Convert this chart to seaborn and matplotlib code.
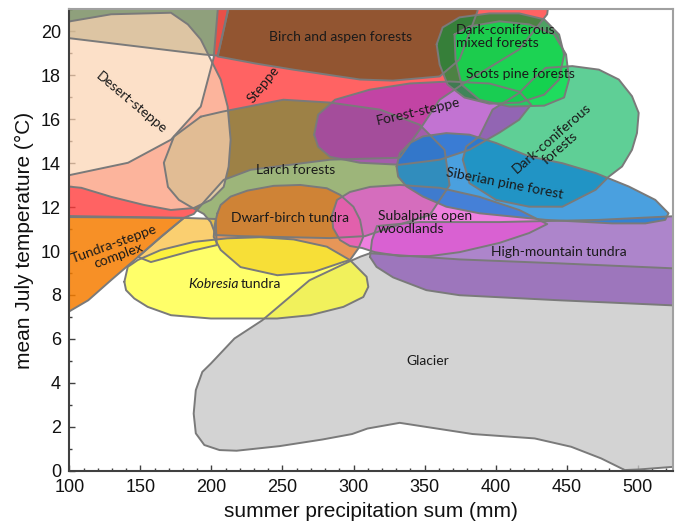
import matplotlib
matplotlib.use("Agg")
import matplotlib.pyplot as plt
from matplotlib.ticker import MultipleLocator
import seaborn as sns

# zone outlines (x = summer precipitation in mm, y = July temp in degC)
sage_top_x = [94.4, 213.5, 211.4, 204.4, 194.6, 101.4, 94.4]
sage_top_y = [21.5, 21.5, 20.87, 18.9, 18.95, 19.68, 19.73]

steppe_x = [94.4, 141.3, 171.5, 192.5, 201.6, 205.1, 437.7, 436.3, 416.6, 381.6, 360.6, 346.6,
            332.6, 283.5, 227.5, 208.6, 196.0, 187.6, 180.6, 94.4]
steppe_y = [13.38, 14.02, 15.07, 16.58, 18.81, 21.5, 21.5, 20.78, 19.18, 17.81, 16.89, 15.53,
            14.25, 14.16, 13.7, 13.24, 12.33, 11.69, 11.51, 11.6]

larch_x = [192.5, 207.9, 250.6, 283.5, 318.6, 346.6, 364.1, 367.6, 353.6, 329.1, 308.1, 283.5,
           248.5, 220.5, 203.0, 199.5, 194.6, 185.5, 177.1, 169.4, 166.5, 173.6]
larch_y = [16.12, 16.35, 16.89, 16.76, 16.44, 15.75, 14.61, 13.0, 11.64, 11.14, 10.68, 10.59,
           10.64, 10.68, 10.73, 11.32, 11.69, 12.01, 12.33, 12.92, 14.02, 15.21]

desert_x = [94.4, 101.4, 129.4, 171.5, 183.4, 192.5, 199.5, 206.5, 211.4, 213.5, 212.1, 208.6,
            199.5, 187.6, 171.5, 152.5, 129.4, 108.4, 94.4]
desert_y = [20.37, 20.47, 20.78, 20.85, 20.32, 19.63, 18.72, 17.81, 16.58, 15.07, 13.84, 12.92,
            12.33, 11.96, 11.87, 12.1, 12.47, 12.88, 12.97]

birch_x = [212.1, 211.4, 207.9, 204.4, 231.0, 257.6, 304.6, 327.7, 360.6, 374.6, 387.2, 388.6]
birch_y = [21.5, 20.91, 19.86, 18.86, 18.54, 18.26, 17.81, 17.76, 17.95, 18.72, 20.91, 21.5]

darkcon_x = [435.3, 454.0, 472.7, 486.7, 496.0, 500.7, 499.5, 496.0, 489.0, 479.7, 470.4, 447.0,
             423.6, 400.3, 381.6, 376.9, 379.3, 388.6, 397.9, 416.6, 426.0]
darkcon_y = [18.34, 18.42, 18.26, 17.81, 17.05, 16.29, 15.37, 14.61, 13.85, 13.39, 12.79, 12.02,
             12.02, 12.33, 13.09, 14.16, 14.76, 15.22, 16.44, 17.2, 17.81]

forest_steppe_x = [272.3, 275.1, 287.0, 311.6, 339.6, 367.6, 395.6, 416.6, 425.0, 416.6, 402.6,
                   381.6, 360.6, 332.6, 304.6, 283.5, 275.1]
forest_steppe_y = [15.3, 16.21, 16.89, 17.35, 17.63, 17.72, 17.63, 17.26, 16.67, 15.98, 15.39,
                   14.61, 14.16, 13.93, 14.02, 14.29, 14.75]

mixed_x = [358.5, 362.7, 374.6, 395.6, 416.6, 434.2, 444.7, 448.2, 444.7, 434.2, 416.6, 395.6,
           378.1, 366.2, 360.6]
mixed_y = [19.41, 20.18, 20.64, 20.82, 20.82, 20.55, 19.86, 18.95, 17.81, 17.12, 16.76, 16.71,
           16.99, 17.58, 18.49]

scots_x = [371.1, 381.6, 402.6, 423.6, 441.2, 449.6, 451.7, 448.2, 434.2, 409.6, 388.6, 376.0, 371.8]
scots_y = [19.86, 20.23, 20.46, 20.32, 19.86, 18.95, 17.81, 16.99, 16.62, 16.58, 16.89, 17.58, 18.72]

glacier_x = [311.6, 374.6, 444.7, 530.0, 530.0, 519.6, 501.5, 490.9, 474.3, 453.2, 427.5, 383.8,
             353.6, 332.5, 309.8, 299.0, 278.0, 248.0, 217.7, 205.7, 195.0, 189.0, 187.5, 189.0,
             193.6, 199.6, 216.2, 235.8, 269.0, 296.2, 305.0]
glacier_y = [9.9, 9.62, 9.44, 9.2, 0.2, 0.15, 0.06, 0.03, 0.56, 1.09, 1.47, 1.67,
             1.97, 2.18, 1.92, 1.67, 1.42, 1.12, 0.91, 0.94, 1.17, 1.7, 2.6, 3.67,
             4.5, 4.88, 6.02, 6.85, 8.67, 9.5, 9.75]

hm_tundra_x = [311.6, 313.0, 316.5, 346.6, 402.6, 472.7, 530.0, 530.0, 524.0, 444.7, 374.6, 351.3,
               327.9, 316.2]
hm_tundra_y = [9.73, 10.5, 11.14, 11.32, 11.32, 11.42, 11.6, 7.5, 7.53, 7.76, 7.99, 8.22,
               8.8, 9.28]

pale_x = [180.6, 203.0, 203.7, 185.5, 157.4, 148.3, 164.4]
pale_y = [11.51, 11.46, 10.27, 10.0, 9.5, 9.73, 10.64]

tsteppe_x = [94.4, 180.6, 164.4, 148.3, 129.4, 113.3, 101.4, 94.4]
tsteppe_y = [11.55, 11.51, 10.64, 9.73, 8.68, 7.76, 7.31, 7.03]

dwarf_x = [204.2, 206.5, 213.5, 225.2, 243.8, 262.5, 281.2, 290.5, 299.9, 304.6, 306.9, 303.4,
           297.5, 292.6, 271.6, 246.4, 220.5, 206.5, 201.6, 202.3]
dwarf_y = [11.72, 12.1, 12.48, 12.75, 12.97, 13.01, 12.86, 12.56, 12.02, 11.42, 10.65, 10.12,
           9.59, 9.5, 9.04, 8.9, 9.27, 10.05, 10.64, 11.19]

kobresia_x = [138.7, 141.1, 148.1, 164.4, 187.8, 211.2, 234.5, 257.8, 281.2, 297.5, 309.2, 310.4,
              306.9, 292.9, 269.5, 246.2, 222.8, 199.5, 171.5, 155.1, 145.7, 139.9]
kobresia_y = [8.6, 9.28, 9.59, 10.05, 10.42, 10.58, 10.63, 10.53, 10.2, 9.59, 8.83, 8.37,
              7.91, 7.46, 7.08, 6.93, 6.93, 6.93, 7.08, 7.46, 7.84, 8.22]

subalpine_x = [284.9, 288.4, 297.5, 311.6, 332.6, 360.6, 388.6, 416.6, 436.3, 423.6, 402.6, 374.6,
               353.6, 332.6, 315.1, 306.0, 297.5, 290.5, 285.6]
subalpine_y = [11.64, 12.33, 12.69, 12.92, 13.01, 12.88, 12.47, 11.87, 11.23, 10.82, 10.37, 9.95,
               9.77, 9.77, 9.95, 10.14, 10.23, 10.5, 11.05]

siberian_x = [330.3, 332.6, 339.6, 348.9, 365.3, 381.6, 400.3, 423.6, 447.0, 470.4, 493.7, 512.4,
              521.7, 519.4, 505.4, 482.0, 458.7, 435.3, 412.0, 388.6, 365.3, 348.9, 337.3, 331.4]
siberian_y = [13.85, 14.46, 14.92, 15.22, 15.37, 15.3, 14.92, 14.31, 14.0, 13.55, 12.94, 12.33,
              11.72, 11.42, 11.26, 11.26, 11.34, 11.42, 11.57, 11.72, 12.02, 12.48, 12.94, 13.39]

# drawing order, colour and opacity of each zone
zones = [
    (sage_top_x, sage_top_y, "#58713c", 0.67),
    (steppe_x, steppe_y, "#ff3c3c", 0.8),
    (larch_x, larch_y, "#6d9139", 0.67),
    (desert_x, desert_y, "#fcd4b3", 0.72),
    (birch_x, birch_y, "#7f5329", 0.85),
    (darkcon_x, darkcon_y, "#29bf73", 0.75),
    (forest_steppe_x, forest_steppe_y, "#a838c0", 0.7),
    (mixed_x, mixed_y, "#1f8a3c", 0.8),
    (scots_x, scots_y, "#10e050", 0.8),
    (glacier_x, glacier_y, "#c8c8c8", 0.8),
    (hm_tundra_x, hm_tundra_y, "#8144b0", 0.65),
    (pale_x, pale_y, "#f9c040", 0.75),
    (tsteppe_x, tsteppe_y, "#f67d00", 0.85),
    (dwarf_x, dwarf_y, "#e07320", 0.75),
    (kobresia_x, kobresia_y, "#ffff2a", 0.7),
    (subalpine_x, subalpine_y, "#e955d5", 0.75),
    (siberian_x, siberian_y, "#0d80d5", 0.75),
]

# zone labels: text, x, y, rotation
labels = [
    ("Birch and aspen forests", 291.2, 19.73, 0),
    ("Desert-steppe", 143.4, 16.76, -40),
    ("Steppe", 236.6, 17.58, 51),
    ("Scots pine forests", 417.3, 18.08, 0),
    ("Forest-steppe", 345.2, 16.35, 13),
    ("Dark-coniferous\nforests", 442.6, 14.93, 41),
    ("Larch forests", 259.0, 13.7, 0),
    ("Siberian pine forest", 406.1, 13.06, -11),
    ("Dwarf-birch tundra", 255.5, 11.51, 0),
    ("Tundra-steppe\ncomplex", 133.0, 10.05, 20),
    ("High-mountain tundra", 444.7, 9.95, 0),
    ("Glacier", 352.2, 4.98, 0),
]

sns.set_theme(style="ticks")
plt.rcParams["font.family"] = ["Liberation Sans Narrow", "Liberation Sans", "DejaVu Sans"]

fig = plt.figure(figsize=(6.8, 5.25), dpi=100)
ax = fig.add_axes([0.102, 0.1034, 0.888, 0.8786])

edge = "#7a7a7a"
for xs, ys, col, a in zones:
    ax.fill(xs, ys, facecolor=col, alpha=a, edgecolor="none", zorder=1)
    sns.lineplot(x=xs + xs[:1], y=ys + ys[:1], sort=False, estimator=None,
                 color=edge, linewidth=1.4, ax=ax, zorder=2)

lab_font = ["Lato", "DejaVu Sans"]
for txt, x, y, rot in labels:
    ax.text(x, y, txt, ha="center", va="center", rotation=rot, fontsize=10,
            family=lab_font, color="#1a1a1a", zorder=5, linespacing=1.1)

ax.text(371.8, 19.77, "Dark-coniferous\nmixed forests", ha="left", va="center",
        fontsize=10, family=lab_font, color="#1a1a1a", zorder=5, linespacing=1.1)
ax.text(317.2, 11.32, "Subalpine open\nwoodlands", ha="left", va="center",
        fontsize=10, family=lab_font, color="#1a1a1a", zorder=5, linespacing=1.1)
ax.text(219.0, 8.49, "Kobresia", ha="right", va="center", style="italic",
        fontsize=10, family=lab_font, color="#1a1a1a", zorder=5)
ax.text(220.4, 8.49, "tundra", ha="left", va="center",
        fontsize=10, family=lab_font, color="#1a1a1a", zorder=5)

ax.set_xlim(100, 525)
ax.set_ylim(0, 21)
ax.xaxis.set_major_locator(MultipleLocator(50))
ax.xaxis.set_minor_locator(MultipleLocator(10))
ax.yaxis.set_major_locator(MultipleLocator(2))
ax.yaxis.set_minor_locator(MultipleLocator(1))
ax.tick_params(which="both", direction="in", color="#404040", labelsize=13,
               labelcolor="#111111", width=1.0)
ax.tick_params(which="major", length=4, pad=6)
ax.tick_params(which="minor", length=2.5)

for side in ["bottom", "left"]:
    ax.spines[side].set_color("#404040")
    ax.spines[side].set_linewidth(1.5)
for side in ["top", "right"]:
    ax.spines[side].set_visible(True)
    ax.spines[side].set_color("#a0a0a0")
    ax.spines[side].set_linewidth(1.5)

ax.set_xlabel("summer precipitation sum (mm)", fontsize=15, color="#111111", labelpad=4)
ax.set_ylabel("mean July temperature (°C)", fontsize=15, color="#111111", labelpad=5)
ax.grid(False)

fig.savefig("out.png", dpi=100)
